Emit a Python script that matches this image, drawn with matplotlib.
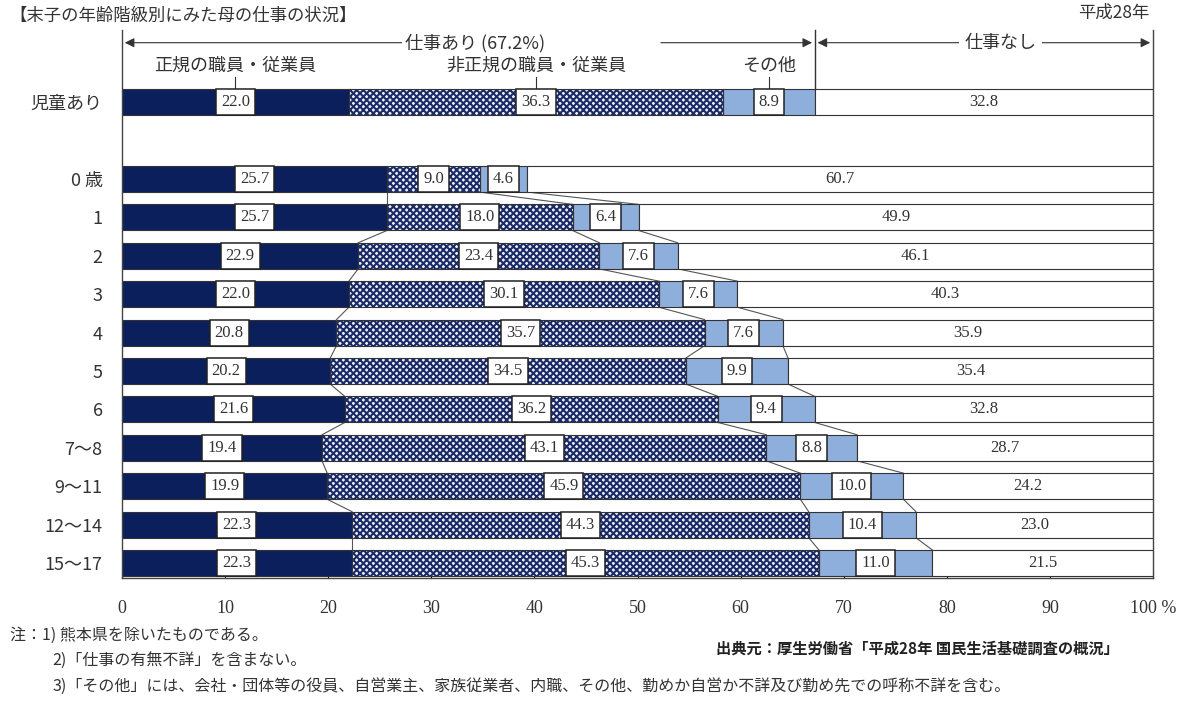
import numpy as np
import matplotlib.pyplot as plt

plt.rcParams['font.family'] = ['Liberation Serif', 'Noto Sans CJK JP', 'DejaVu Sans']
plt.rcParams['hatch.linewidth'] = 1.5

categories = ['児童あり', '0 歳', '1', '2', '3', '4', '5', '6', '7～8', '9～11', '12～14', '15～17']
regular = [22.0, 25.7, 25.7, 22.9, 22.0, 20.8, 20.2, 21.6, 19.4, 19.9, 22.3, 22.3]
nonregular = [36.3, 9.0, 18.0, 23.4, 30.1, 35.7, 34.5, 36.2, 43.1, 45.9, 44.3, 45.3]
other = [8.9, 4.6, 6.4, 7.6, 7.6, 7.6, 9.9, 9.4, 8.8, 10.0, 10.4, 11.0]
nowork = [32.8, 60.7, 49.9, 46.1, 40.3, 35.9, 35.4, 32.8, 28.7, 24.2, 23.0, 21.5]
working_total = 67.2
ypos = [0, 2, 3, 4, 5, 6, 7, 8, 9, 10, 11, 12]

navy = '#0b1f5c'
lightblue = '#8eaedb'
jp = ['Noto Sans CJK JP', 'DejaVu Sans']
bh = 0.68

fig = plt.figure(figsize=(12, 7.1), dpi=100)
ax = fig.add_axes([0.1017, 0.1859, 0.8591, 0.7718])

reg = np.array(regular)
non = np.array(nonregular)
oth = np.array(other)
nw = np.array(nowork)
y = np.array(ypos)

ax.barh(y, reg, height=bh, color=navy, edgecolor='#333333', linewidth=0.8, zorder=2)
# checkered segment: dark hatch on light face, outline drawn separately
ax.barh(y, non, left=reg, height=bh, color='#eef0f6', edgecolor='#1a2b68', hatch='xxxxx', linewidth=0, zorder=2)
ax.barh(y, non, left=reg, height=bh, fill=False, edgecolor='#333333', linewidth=0.8, zorder=3)
ax.barh(y, oth, left=reg + non, height=bh, color=lightblue, edgecolor='#333333', linewidth=0.8, zorder=2)
ax.barh(y, nw, left=reg + non + oth, height=bh, color='white', edgecolor='#333333', linewidth=0.8, zorder=2)

# value labels
box = dict(boxstyle='square,pad=0.3', facecolor='white', edgecolor='#222222', linewidth=1.1)
for i in range(len(y)):
    starts = [0, reg[i], reg[i] + non[i], reg[i] + non[i] + oth[i]]
    vals = [reg[i], non[i], oth[i], nw[i]]
    for k in range(4):
        ax.text(starts[k] + vals[k] / 2, y[i], f'{vals[k]:.1f}', ha='center', va='center',
                fontsize=12, color='#333333', zorder=5,
                bbox=box if k < 3 else None)

# connecting lines between age rows
cum = np.vstack([reg, reg + non, reg + non + oth])
for i in range(1, len(y) - 1):
    for b in range(3):
        ax.plot([cum[b, i], cum[b, i + 1]], [y[i] + bh / 2, y[i + 1] - bh / 2],
                color='#555555', lw=0.8, zorder=1)

ax.set_xlim(0, 100)
ax.set_ylim(12.39, -1.88)
ax.set_yticks(y)
ax.set_yticklabels(categories, family=jp, fontsize=13, color='#333333')
ax.tick_params(axis='y', length=0, pad=14)
ax.set_xticks(np.arange(0, 101, 10))
ax.set_xticklabels([str(v) for v in range(0, 100, 10)] + ['100 %'], fontsize=13, color='#333333')
ax.tick_params(axis='x', direction='in', length=5, pad=16)
ax.spines['top'].set_visible(False)
for s in ['left', 'right', 'bottom']:
    ax.spines[s].set_color('#444444')
    ax.spines[s].set_linewidth(1.0)

# header arrows
ay = -1.55
ax.plot([working_total, working_total], [-1.88, -bh / 2], color='#333333', lw=1.0, clip_on=False)
ax.annotate('', xy=(0, ay), xytext=(33, ay),
            arrowprops=dict(arrowstyle='-|>', color='#333333', lw=0.8, mutation_scale=14))
ax.annotate('', xy=(working_total, ay), xytext=(52, ay),
            arrowprops=dict(arrowstyle='-|>', color='#333333', lw=0.8, mutation_scale=14))
ax.text(34.2, ay, '仕事あり (67.2%)', ha='center', va='center', fontsize=13, color='#333333',
        family=jp, bbox=dict(facecolor='white', edgecolor='none', pad=2))
ax.annotate('', xy=(working_total, ay), xytext=(84, ay),
            arrowprops=dict(arrowstyle='-|>', color='#333333', lw=0.8, mutation_scale=14))
ax.annotate('', xy=(100, ay), xytext=(86, ay),
            arrowprops=dict(arrowstyle='-|>', color='#333333', lw=0.8, mutation_scale=14))
ax.text(85.2, ay, '仕事なし', ha='center', va='center', fontsize=13, color='#333333',
        family=jp, bbox=dict(facecolor='white', edgecolor='none', pad=4))

# series names with leader lines
ty = -0.95
names = ['正規の職員・従業員', '非正規の職員・従業員', 'その他']
centers = [reg[0] / 2, reg[0] + non[0] / 2, reg[0] + non[0] + oth[0] / 2]
for name, cx in zip(names, centers):
    ax.text(cx, ty, name, ha='center', va='center', fontsize=13, color='#333333', family=jp)
    ax.plot([cx, cx], [ty + 0.3, -0.32], color='#333333', lw=0.8)

fig.text(0.008, 0.978, '【末子の年齢階級別にみた母の仕事の状況】', fontsize=12.5, color='#333333',
         family=jp, va='center')
fig.text(0.958, 0.982, '平成28年', fontsize=12.5, color='#333333', family=jp, ha='right', va='center')

fig.text(0.008, 0.105, '注：1) 熊本県を除いたものである。', fontsize=11.5, color='#333333', family=jp, va='center')
fig.text(0.044, 0.069, '2)「仕事の有無不詳」を含まない。', fontsize=11.5, color='#333333', family=jp, va='center')
fig.text(0.044, 0.033, '3)「その他」には、会社・団体等の役員、自営業主、家族従業者、内職、その他、勤めか自営か不詳及び勤め先での呼称不詳を含む。',
         fontsize=11.5, color='#333333', family=jp, va='center')
fig.text(0.597, 0.087, '出典元：厚生労働省「平成28年 国民生活基礎調査の概況」', fontsize=11,
         color='#222222', family=jp, va='center', weight='bold')

fig.savefig('out.png', dpi=100)
